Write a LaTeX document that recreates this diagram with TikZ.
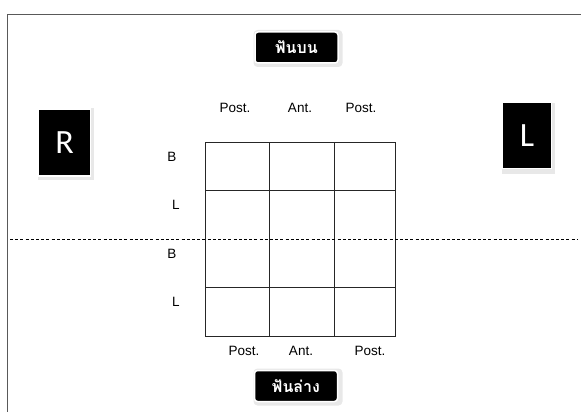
\documentclass[tikz,border=0pt]{standalone}
\usepackage{fontspec}
\setmainfont{Liberation Sans}
\newfontfamily\thaifont[Script=Thai]{Loma}
\newfontfamily\carl{Carlito}
\begin{document}
\begin{tikzpicture}[x=1pt,y=-1pt,
  lbl/.style={font=\fontsize{13.5}{15}\selectfont, inner sep=0pt, anchor=center},
  thaibox/.style={fill=black, text=white, rounded corners=3pt, minimum width=83pt, minimum height=31pt, inner sep=0pt,
     font=\thaifont\bfseries\fontsize{16}{18}\selectfont, draw=white, line width=1.5pt},
  thaishadow/.style={fill=gray!18, rounded corners=4pt, minimum width=89pt, minimum height=37pt, inner sep=0pt},
  sidebox/.style={fill=black, text=white, inner sep=0pt, font=\carl\fontsize{34}{36}\selectfont, draw=white, line width=1.5pt},
  sideshadow/.style={fill=gray!18, inner sep=0pt},
  gridline/.style={draw=black!85, line width=0.8pt},
  frame/.style={draw=black!65, line width=1.5pt}
]
\useasboundingbox (0,0) rectangle (581,412);
% frame
\draw[frame] (581,14.5) -- (7.5,14.5) -- (7.5,412);
% upper / lower title boxes
\node[thaishadow] (ups) at (298,48.5) {};
\node[thaibox] (up) at (296.5,47.5) {ฟันบน};
\node[thaishadow] (los) at (298,387) {};
\node[thaibox] (lo) at (296,386) {ฟันล่าง};
% R and L boxes
\node[sideshadow, minimum width=56pt, minimum height=72pt] (rs) at (66,144) {};
\node[sidebox, minimum width=52pt, minimum height=67pt] (r) at (64.5,142.5) {R};
\node[sideshadow, minimum width=53pt, minimum height=71pt] (ls) at (528.5,138) {};
\node[sidebox, minimum width=49pt, minimum height=66pt] (l) at (527,135.5) {L};
% grid
\draw[gridline] (205,142.5) rectangle (395.5,336.5);
\draw[gridline] (269,142.5) -- (269,336.5);
\draw[gridline] (334,142.5) -- (334,336.5);
\draw[gridline] (205,190.5) -- (395.5,190.5);
\draw[gridline] (205,287) -- (395.5,287);
% dashed midline
\draw[black, line width=0.9pt, dash pattern=on 3pt off 2.2pt] (10,239) -- (578,239);
% labels
\node[lbl] (tp1) at (235,108) {Post.};
\node[lbl] (ta) at (300,108) {Ant.};
\node[lbl] (tp2) at (361,108) {Post.};
\node[lbl] (b1) at (172,157) {B};
\node[lbl] (l1) at (176,205) {L};
\node[lbl] (b2) at (172,254) {B};
\node[lbl] (l2) at (176,302) {L};
\node[lbl] (bp1) at (244,351) {Post.};
\node[lbl] (ba) at (301,351) {Ant.};
\node[lbl] (bp2) at (370,351) {Post.};
\end{tikzpicture}
\end{document}
